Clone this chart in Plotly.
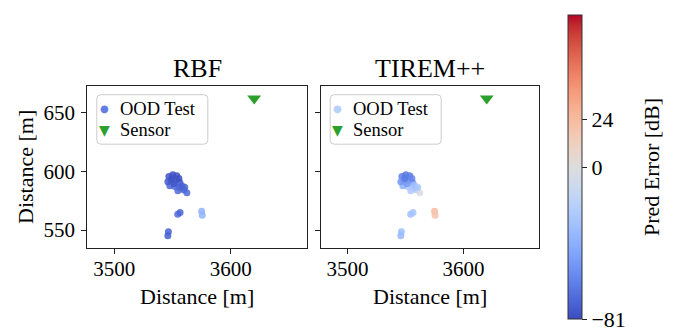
import plotly.graph_objects as go

# ---------------- data ----------------
x_pos = [3552.0, 3546.9, 3550.3, 3553.7, 3548.6, 3552.9, 3556.3, 3547.7, 3556.3,
         3559.7, 3562.3, 3554.6, 3558.0, 3551.2, 3546.0, 3555.5, 3549.5, 3560.5,
         3554.5, 3556.5, 3575.0, 3575.5, 3546.5, 3546.0]
y_pos = [587.0, 595.5, 597.2, 596.3, 592.1, 592.1, 590.4, 587.8, 586.1,
         584.4, 581.8, 583.5, 587.8, 589.5, 591.2, 593.8, 594.0, 586.5,
         563.5, 565.0, 566.0, 562.5, 548.5, 545.0]
err_rbf = [-68, -78, -81, -79, -76, -77, -74, -72, -73,
           -75, -70, -71, -74, -77, -76, -80, -79, -72,
           -70, -72, -40, -38, -73, -74]
err_tirem = [-24, -62, -66, -63, -58, -55, -45, -40, -30,
             -28, -3, -25, -33, -50, -52, -60, -64, -27,
             -32, -30, 24, 20, -34, -36]
sensor_x = [3620]
sensor_y = [662]
panel_titles = ["RBF", "TIREM++"]
legend_labels = ["OOD Test", "Sensor"]
cbar_ticks = [-81, 0, 24]
vmin, vcenter, vmax = -81, 0, 77

# matplotlib "coolwarm" (Moreland) samples
coolwarm = [
    (0.0, (59, 76, 192)), (0.03125, (68, 90, 204)), (0.0625, (77, 104, 215)),
    (0.09375, (87, 117, 225)), (0.125, (98, 130, 234)), (0.15625, (108, 142, 241)),
    (0.1875, (119, 154, 247)), (0.21875, (130, 165, 251)), (0.25, (141, 176, 254)),
    (0.28125, (152, 185, 255)), (0.3125, (163, 194, 255)), (0.34375, (174, 201, 253)),
    (0.375, (184, 208, 249)), (0.40625, (194, 213, 244)), (0.4375, (204, 217, 238)),
    (0.46875, (213, 219, 230)), (0.5, (221, 221, 221)), (0.53125, (229, 216, 209)),
    (0.5625, (236, 211, 197)), (0.59375, (241, 204, 185)), (0.625, (245, 196, 173)),
    (0.65625, (247, 187, 160)), (0.6875, (247, 177, 148)), (0.71875, (247, 166, 135)),
    (0.75, (244, 154, 123)), (0.78125, (241, 141, 111)), (0.8125, (236, 127, 99)),
    (0.84375, (229, 112, 88)), (0.875, (222, 96, 77)), (0.90625, (213, 80, 66)),
    (0.9375, (203, 62, 56)), (0.96875, (192, 40, 47)), (1.0, (180, 4, 38)),
]
colorscale = [[p, "rgb(%d,%d,%d)" % c] for p, c in coolwarm]


def norm(v):
    if v < vcenter:
        return 0.5 * (v - vmin) / (vcenter - vmin)
    return 0.5 + 0.5 * (v - vcenter) / (vmax - vcenter)


def cmap(t):
    for (p0, c0), (p1, c1) in zip(coolwarm[:-1], coolwarm[1:]):
        if p0 <= t <= p1:
            f = (t - p0) / (p1 - p0)
            return "rgb(%d,%d,%d)" % tuple(round(a + f * (b - a)) for a, b in zip(c0, c1))
    return "rgb(%d,%d,%d)" % coolwarm[-1][1]


FONT = "Liberation Serif"
W, H = 678, 335
SENSOR_COLOR = "#2ca02c"

# panel geometry (pixels)
panels = [(87.3, 306.7), (320.7, 539.0)]
ytop, ybot = 85.7, 248.3
xrange_ = [3477, 3665]
yrange_ = [534.4, 673]


def px(x):
    return x / W


def py(y):
    return 1 - y / H


fig = go.Figure()
errs = [err_rbf, err_tirem]
for i, err in enumerate(errs):
    xa = "x" if i == 0 else "x2"
    ya = "y" if i == 0 else "y2"
    nv = [norm(v) for v in err]
    fig.add_trace(go.Scatter(
        x=x_pos, y=y_pos, mode="markers", name=legend_labels[0], showlegend=False,
        xaxis=xa, yaxis=ya,
        marker=dict(size=7, color=nv, colorscale=colorscale, cmin=0, cmax=1,
                    opacity=0.85, line=dict(width=0),
                    showscale=(i == 1),
                    colorbar=dict(
                        x=px(568.3), xanchor="left", xpad=0, ypad=0,
                        y=py(319), yanchor="bottom",
                        lenmode="pixels", len=304, thicknessmode="pixels", thickness=14,
                        outlinewidth=1, outlinecolor="#333333",
                        tickvals=[norm(t) for t in cbar_ticks],
                        ticktext=[("\u2212%d" % -t) if t < 0 else str(t) for t in cbar_ticks],
                        ticks="outside", ticklen=5, tickwidth=1.2, tickcolor="#222222",
                        tickfont=dict(family=FONT, size=22, color="black"),
                    )),
    ))
    fig.add_trace(go.Scatter(
        x=sensor_x, y=sensor_y, mode="markers", name=legend_labels[1], showlegend=False,
        xaxis=xa, yaxis=ya,
        marker=dict(symbol="triangle-down", size=12, color=SENSOR_COLOR),
    ))

axis_common = dict(
    showgrid=False, zeroline=False, showline=True, linecolor="#222222", linewidth=1.3,
    mirror=True, ticks="outside", ticklen=5, tickwidth=1.2, tickcolor="#222222",
    tickfont=dict(family=FONT, size=21, color="black"),
)
layout = dict(
    width=W, height=H, margin=dict(l=0, r=0, t=0, b=0),
    paper_bgcolor="white", plot_bgcolor="white",
    font=dict(family=FONT, color="black"), showlegend=False,
)
for i, (xl, xr) in enumerate(panels):
    sx = "" if i == 0 else "2"
    layout["xaxis" + sx] = dict(axis_common, domain=[px(xl), px(xr)], range=xrange_,
                                tickvals=[3500, 3600], anchor="y" + sx,
                                ticklabelstandoff=-4)
    layout["yaxis" + sx] = dict(axis_common, domain=[py(ybot), py(ytop)], range=yrange_,
                                tickvals=[550, 600, 650], anchor="x" + sx,
                                showticklabels=(i == 0), ticklabelstandoff=2)
fig.update_layout(**layout)

# ---- legends (drawn as box + symbols + labels, one per panel) ----
shapes = []
ann = []
for i, (xl, xr) in enumerate(panels):
    bx0, bx1 = xl + 9.5, xl + 120.5
    by0, by1 = ytop + 9.0, ytop + 58.5
    r = 4
    path = (f"M {px(bx0 + r)},{py(by0)} L {px(bx1 - r)},{py(by0)} "
            f"Q {px(bx1)},{py(by0)} {px(bx1)},{py(by0 + r)} "
            f"L {px(bx1)},{py(by1 - r)} Q {px(bx1)},{py(by1)} {px(bx1 - r)},{py(by1)} "
            f"L {px(bx0 + r)},{py(by1)} Q {px(bx0)},{py(by1)} {px(bx0)},{py(by1 - r)} "
            f"L {px(bx0)},{py(by0 + r)} Q {px(bx0)},{py(by0)} {px(bx0 + r)},{py(by0)} Z")
    shapes.append(dict(type="path", xref="paper", yref="paper", path=path,
                       fillcolor="rgba(255,255,255,0.8)", line=dict(color="#cccccc", width=1),
                       layer="above"))
    first_col = cmap(norm(errs[i][0]))
    sym_x = bx0 + 7.5
    txt_x = bx0 + 22
    rows = [by0 + 14, by0 + 35]
    ann.append(dict(x=px(sym_x), y=py(rows[0]), xref="paper", yref="paper", text="\u25cf",
                    showarrow=False, font=dict(family="DejaVu Sans", size=10, color=first_col),
                    xanchor="center", yanchor="middle", opacity=0.9))
    ann.append(dict(x=px(sym_x), y=py(rows[1]), xref="paper", yref="paper", text="\u25bc",
                    showarrow=False, font=dict(family="DejaVu Sans", size=14, color=SENSOR_COLOR),
                    xanchor="center", yanchor="middle"))
    for lab, ry in zip(legend_labels, rows):
        ann.append(dict(x=px(txt_x), y=py(ry), xref="paper", yref="paper", text=lab,
                        showarrow=False, font=dict(family=FONT, size=18.5, color="black"),
                        xanchor="left", yanchor="middle", borderpad=0))

for (xl, xr), t in zip(panels, panel_titles):
    xc = px((xl + xr) / 2)
    ann.append(dict(x=xc, y=py(68), xref="paper", yref="paper", text=t, showarrow=False,
                    font=dict(family=FONT, size=26, color="black"), xanchor="center", yanchor="middle"))
    ann.append(dict(x=xc, y=py(296), xref="paper", yref="paper", text="Distance [m]",
                    showarrow=False, font=dict(family=FONT, size=22, color="black"),
                    xanchor="center", yanchor="middle"))
ann.append(dict(x=px(26), y=py(167), xref="paper", yref="paper", text="Distance [m]",
                showarrow=False, textangle=-90, font=dict(family=FONT, size=22, color="black"),
                xanchor="center", yanchor="middle"))
ann.append(dict(x=px(652), y=py(167), xref="paper", yref="paper", text="Pred Error [dB]",
                showarrow=False, textangle=-90, font=dict(family=FONT, size=22, color="black"),
                xanchor="center", yanchor="middle"))
fig.update_layout(annotations=ann, shapes=shapes)

fig.write_html("out.html")
